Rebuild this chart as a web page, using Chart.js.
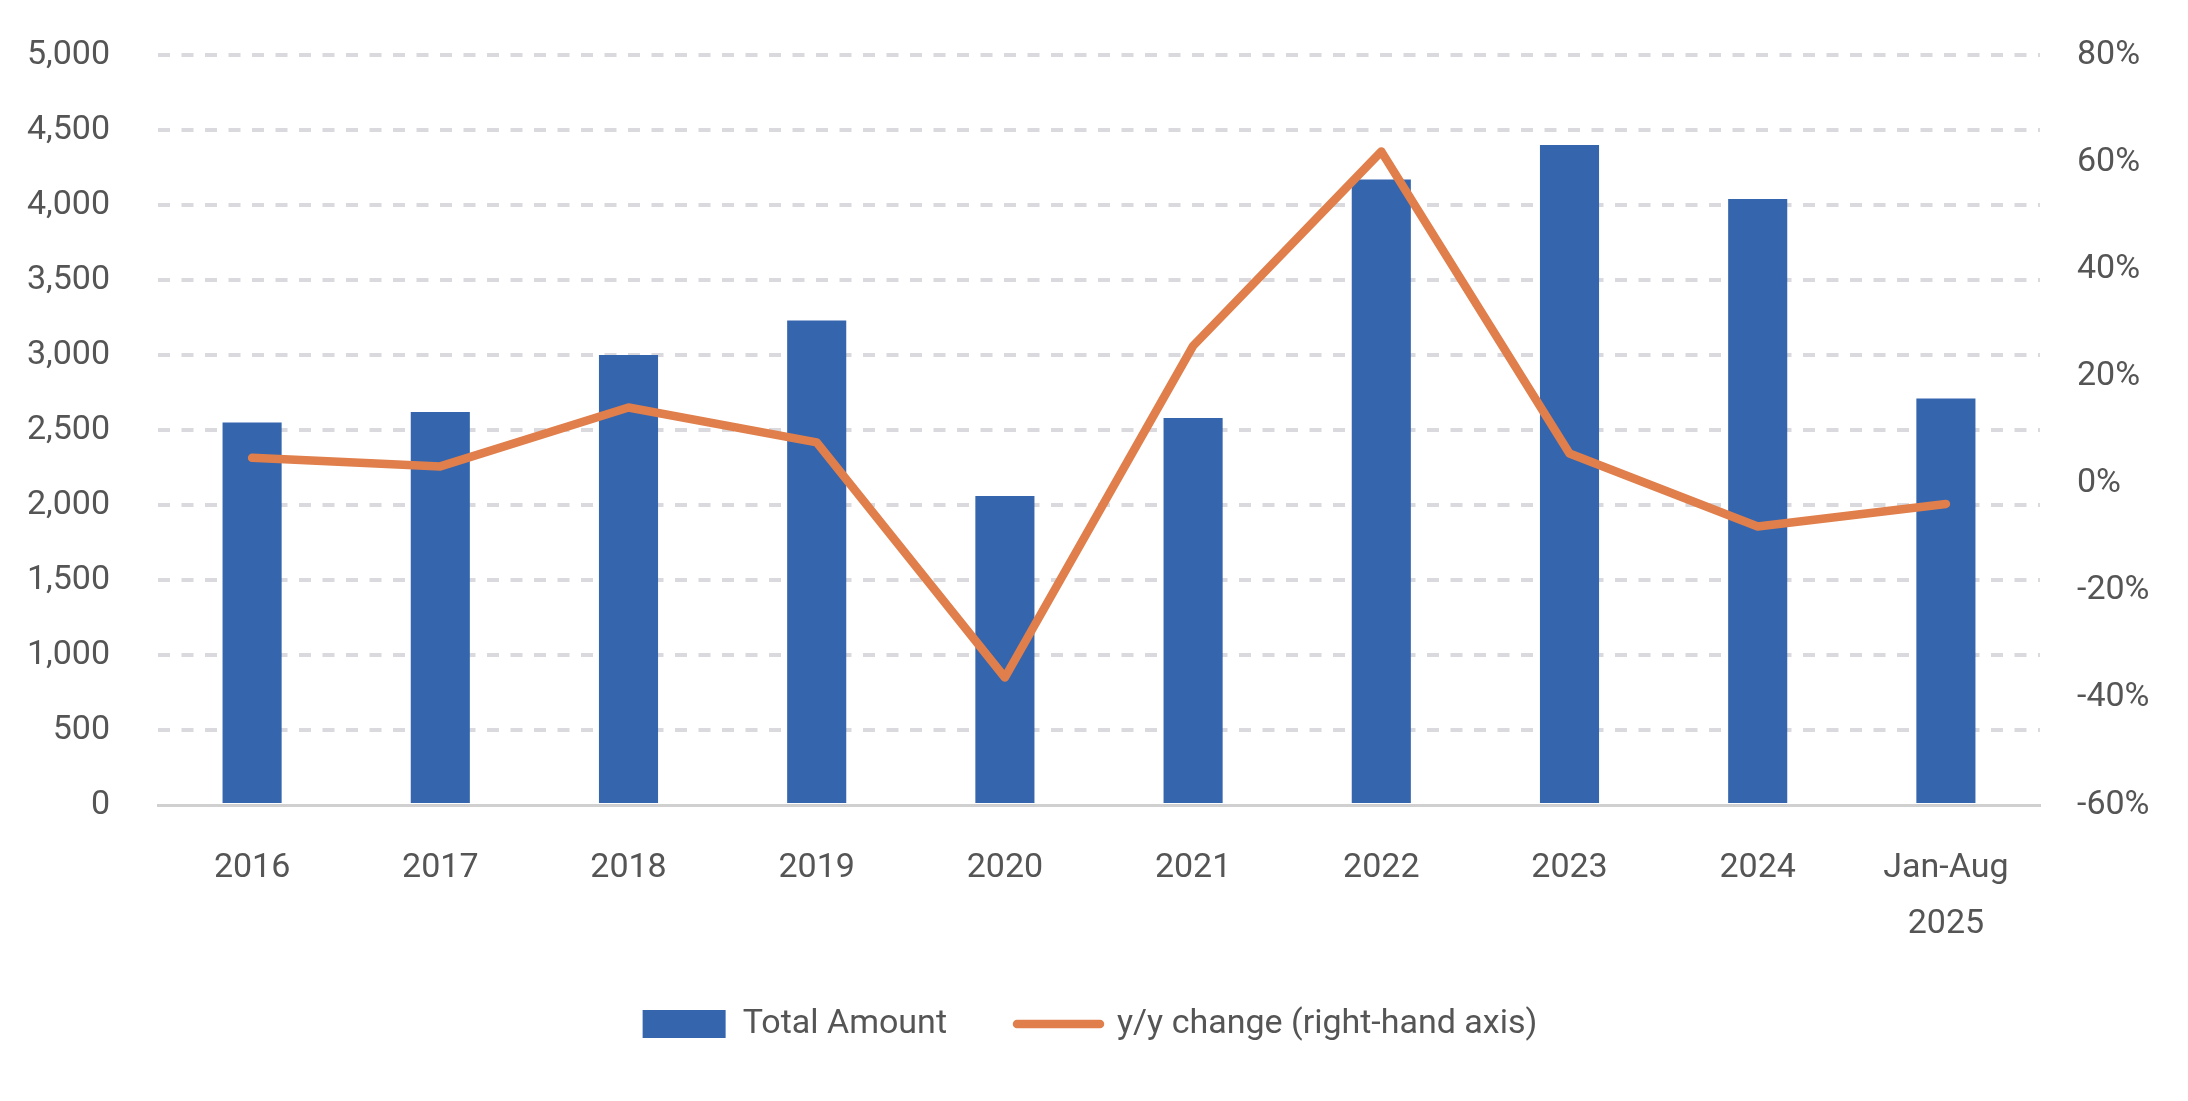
<!DOCTYPE html>
<html>
<head>
<meta charset="utf-8">
<script src="https://cdn.jsdelivr.net/npm/chart.js@4"></script>
<style>
  html, body { margin: 0; padding: 0; background: #ffffff; }
  #wrap { width: 2188px; height: 1101px; position: relative; }
</style>
</head>
<body>
<div id="wrap"><canvas id="c"></canvas></div>
<script>
// ---- data ----
const categories = ['2016', '2017', '2018', '2019', '2020', '2021', '2022', '2023', '2024', ['Jan-Aug', '2025']];
const totalAmount = [2550, 2620, 3000, 3230, 2060, 2580, 4170, 4400, 4040, 2710];
const yoyChange = [4.8, 3.2, 14.2, 7.7, -36.2, 25.7, 62.0, 5.6, -8.0, -3.8];
const leftTickValues = [0, 500, 1000, 1500, 2000, 2500, 3000, 3500, 4000, 4500, 5000];
const rightTickValues = [-60, -40, -20, 0, 20, 40, 60, 80];
const seriesNames = ['Total Amount', 'y/y change (right-hand axis)'];

// ---- style ----
const BLUE = '#3465ad';
const ORANGE = '#e07f4b';
const TEXT = '#555555';
const GRID = '#d9d9de';
const FONT = { family: 'Roboto', size: 34 };

new Chart(document.getElementById('c'), {
  data: {
    labels: categories,
    datasets: [
      {
        type: 'line',
        label: seriesNames[1],
        data: yoyChange,
        yAxisID: 'y1',
        borderColor: ORANGE,
        backgroundColor: ORANGE,
        borderWidth: 8.5,
        borderCapStyle: 'round',
        borderJoinStyle: 'round',
        pointRadius: 0,
        pointHoverRadius: 0,
        tension: 0,
        order: 0
      },
      {
        type: 'bar',
        label: seriesNames[0],
        data: totalAmount,
        yAxisID: 'y',
        backgroundColor: BLUE,
        borderWidth: 0,
        categoryPercentage: 1,
        barPercentage: 0.314,
        order: 1
      }
    ]
  },
  options: {
    responsive: true,
    maintainAspectRatio: false,
    animation: false,
    devicePixelRatio: 1,
    layout: { padding: { top: 55, bottom: 50, left: 0, right: 8 } },
    plugins: {
      tooltip: { enabled: false },
      legend: {
        position: 'bottom',
        labels: {
          usePointStyle: true,
          pointStyleWidth: 83,
          boxHeight: 28,
          padding: 70,
          color: TEXT,
          font: FONT,
          sort: (a, b) => (a.datasetIndex === 1 ? 0 : 1) - (b.datasetIndex === 1 ? 0 : 1),
          generateLabels: (chart) => {
            const items = Chart.defaults.plugins.legend.labels.generateLabels(chart);
            items.forEach(it => {
              if (it.datasetIndex === 1) {
                it.pointStyle = 'rect';
                it.fillStyle = BLUE;
                it.strokeStyle = BLUE;
                it.lineWidth = 0;
              } else {
                it.pointStyle = 'line';
                it.strokeStyle = ORANGE;
                it.fillStyle = ORANGE;
                it.lineWidth = 8.5;
                it.lineCap = 'round';
              }
            });
            return items;
          }
        }
      }
    },
    scales: {
      x: {
        grid: { display: false },
        border: { display: true, color: '#d0d0d0', width: 3 },
        ticks: { color: TEXT, font: { family: 'Roboto', size: 34, lineHeight: 1.65 }, padding: 27, maxRotation: 0, autoSkip: false },
        afterFit: (s) => { s.height = 132; s.paddingLeft = 0; s.paddingRight = 0; }
      },
      y: {
        position: 'left',
        min: 0,
        max: 5000,
        afterBuildTicks: (s) => { s.ticks = leftTickValues.map(v => ({ value: v })); },
        ticks: { color: TEXT, font: FONT, padding: 48, callback: (v) => v.toLocaleString('en-US') },
        grid: {
          color: (ctx) => (ctx.tick && ctx.tick.value === 0 ? 'rgba(0,0,0,0)' : GRID),
          lineWidth: 4,
          drawTicks: false
        },
        border: { display: false, dash: [12, 11.5] },
        afterFit: (s) => { s.width = 158; s.paddingTop = 0; s.paddingBottom = 0; }
      },
      y1: {
        position: 'right',
        min: -60,
        max: 80,
        afterBuildTicks: (s) => { s.ticks = rightTickValues.map(v => ({ value: v })); },
        ticks: { color: TEXT, font: FONT, padding: 37, callback: (v) => v + '%' },
        grid: { drawOnChartArea: false, drawTicks: false },
        border: { display: false },
        afterFit: (s) => { s.width = 140; s.paddingTop = 0; s.paddingBottom = 0; }
      }
    }
  }
});
</script>
</body>
</html>
